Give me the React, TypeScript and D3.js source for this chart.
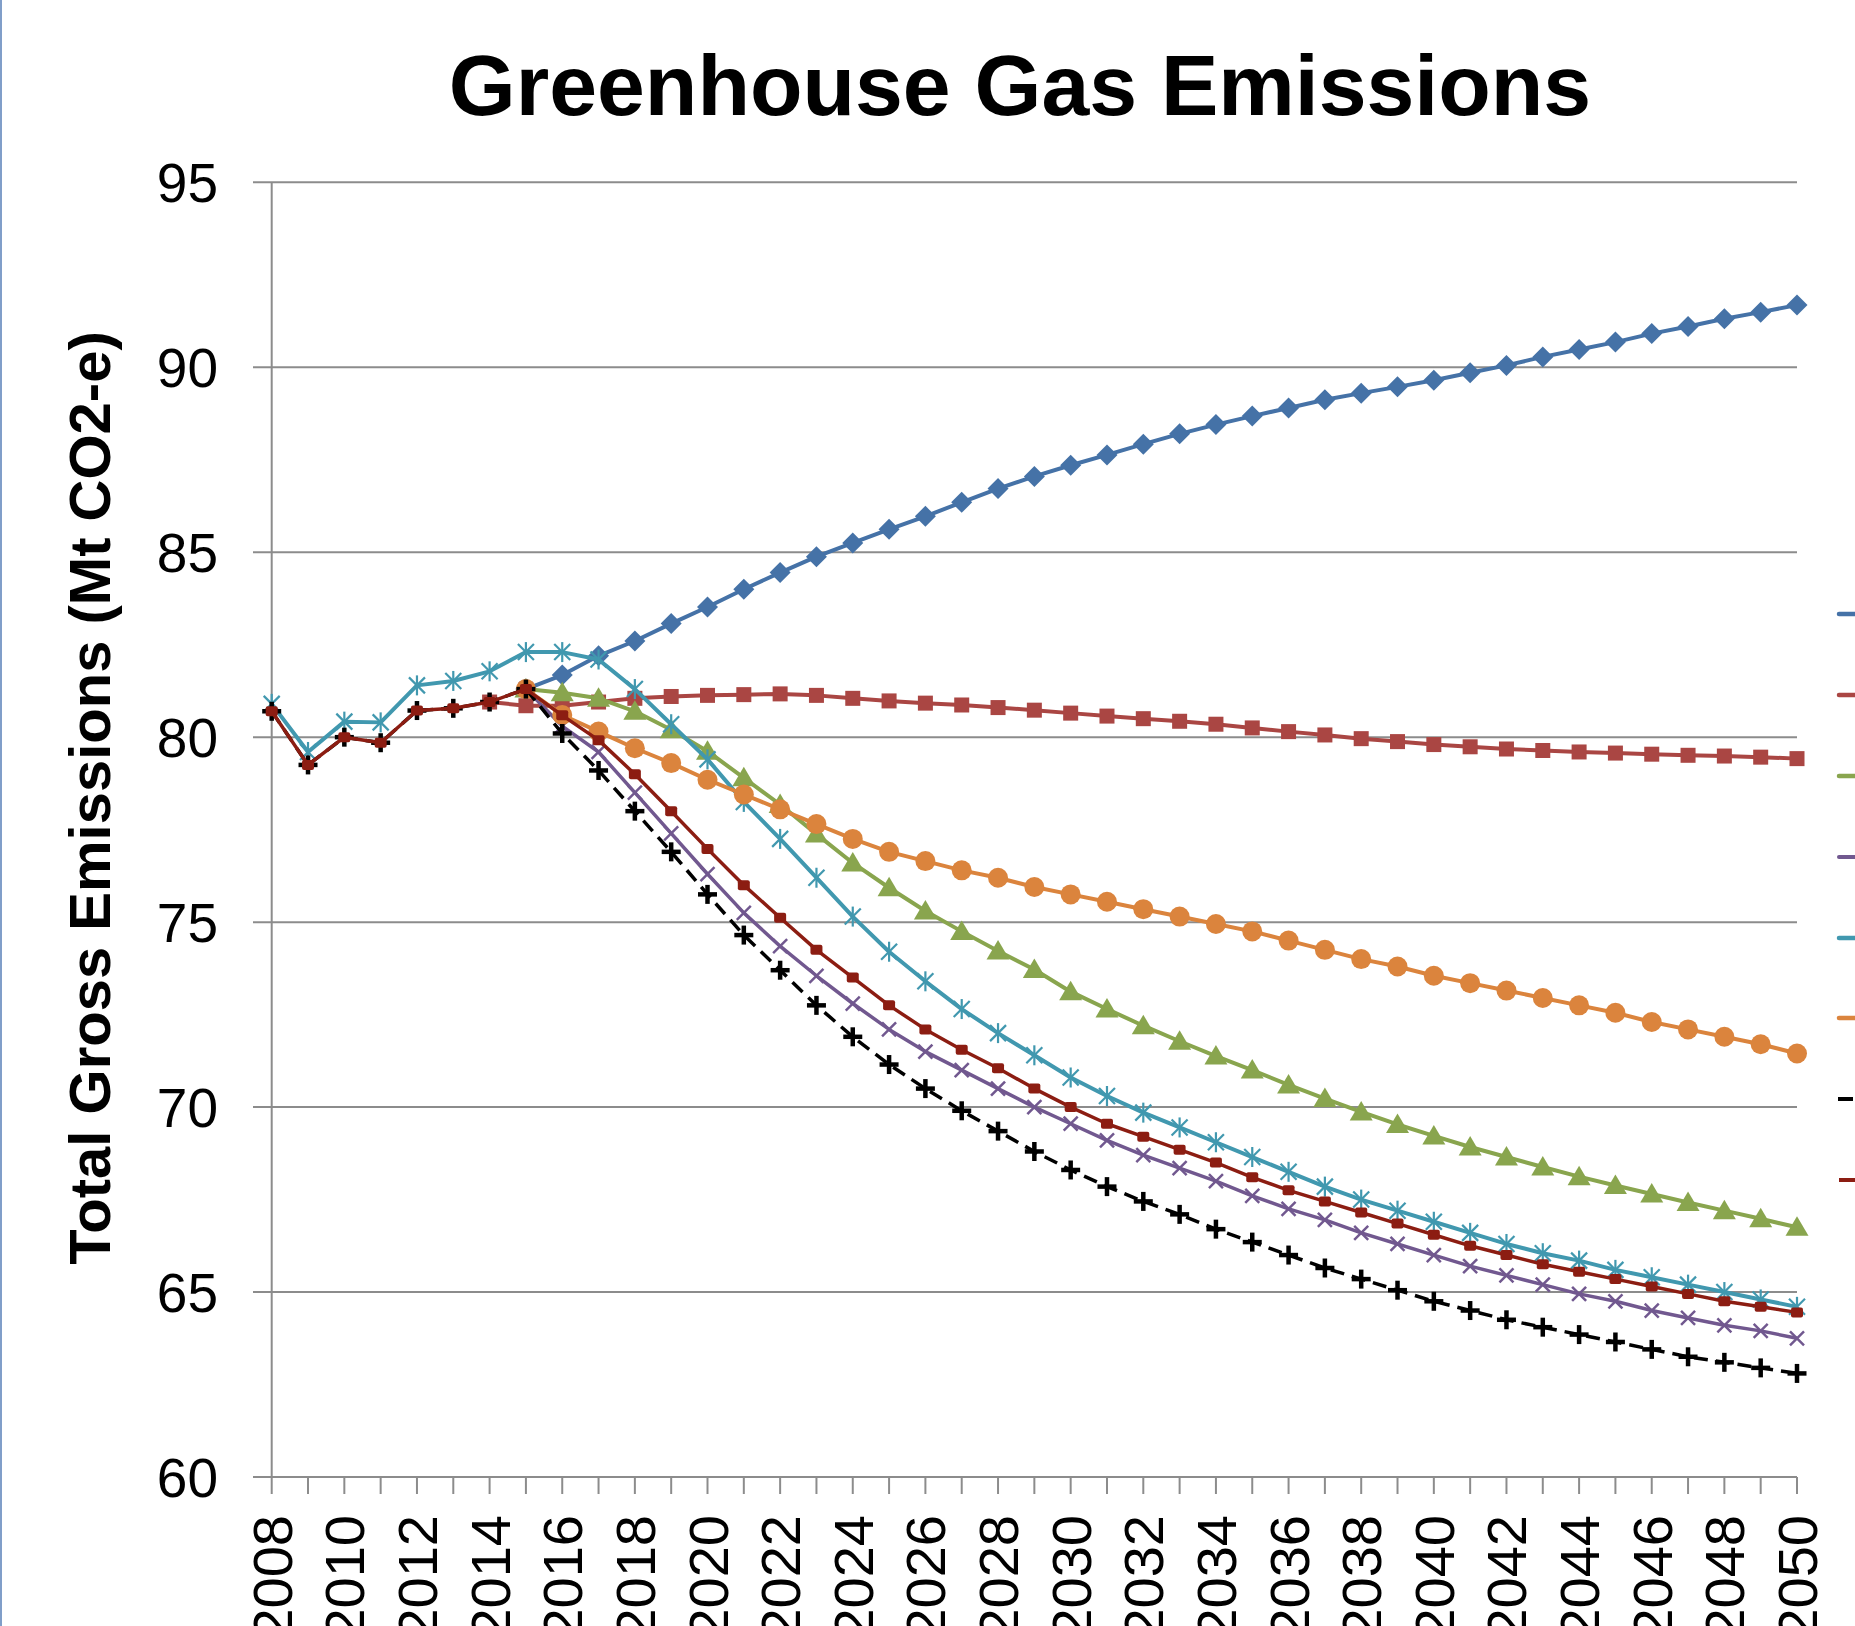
import React from "react";
import * as d3 from "d3";

const years: number[] = d3.range(2008, 2051);
const yTicks: number[] = [60, 65, 70, 75, 80, 85, 90, 95];
const xTickLabels: number[] = d3.range(2008, 2051, 2);

const N = null;
const seriesBlue = [N, N, N, N, N, N, N, 81.3, 81.68, 82.2, 82.6, 83.07, 83.52, 84.0, 84.45, 84.88, 85.25, 85.62, 85.97, 86.35, 86.72, 87.05, 87.35, 87.63, 87.92, 88.2, 88.45, 88.68, 88.9, 89.12, 89.3, 89.47, 89.65, 89.85, 90.05, 90.28, 90.48, 90.68, 90.91, 91.1, 91.31, 91.49, 91.68];
const seriesRed = [N, N, N, N, N, N, 80.95, 80.85, 80.85, 80.95, 81.05, 81.1, 81.13, 81.15, 81.17, 81.13, 81.05, 80.98, 80.92, 80.87, 80.8, 80.73, 80.65, 80.57, 80.5, 80.43, 80.35, 80.25, 80.15, 80.06, 79.96, 79.88, 79.8, 79.74, 79.68, 79.64, 79.6, 79.57, 79.54, 79.51, 79.49, 79.46, 79.42];
const seriesGreen = [N, N, N, N, N, N, N, 81.3, 81.2, 81.05, 80.7, 80.2, 79.62, 78.9, 78.18, 77.38, 76.6, 75.93, 75.3, 74.75, 74.22, 73.72, 73.12, 72.65, 72.2, 71.78, 71.38, 71.0, 70.6, 70.23, 69.87, 69.53, 69.22, 68.92, 68.65, 68.38, 68.12, 67.88, 67.65, 67.42, 67.2, 66.98, 66.75];
const seriesPurple = [N, N, N, N, N, N, N, 81.3, 80.3, 79.6, 78.5, 77.4, 76.3, 75.25, 74.35, 73.55, 72.8, 72.1, 71.5, 71.0, 70.5, 70.0, 69.55, 69.1, 68.7, 68.35, 68.0, 67.6, 67.25, 66.95, 66.6, 66.3, 66.0, 65.7, 65.45, 65.2, 64.95, 64.75, 64.5, 64.3, 64.1, 63.95, 63.75];
const seriesTeal = [80.9, 79.6, 80.42, 80.4, 81.4, 81.52, 81.78, 82.3, 82.3, 82.1, 81.3, 80.35, 79.4, 78.25, 77.25, 76.2, 75.15, 74.2, 73.4, 72.65, 72.0, 71.4, 70.8, 70.3, 69.85, 69.45, 69.05, 68.65, 68.25, 67.85, 67.5, 67.2, 66.9, 66.6, 66.3, 66.05, 65.85, 65.6, 65.4, 65.2, 65.0, 64.8, 64.6];
const seriesOrange = [N, N, N, N, N, N, N, 81.3, 80.6, 80.15, 79.7, 79.3, 78.85, 78.45, 78.05, 77.65, 77.25, 76.9, 76.65, 76.4, 76.2, 75.95, 75.75, 75.55, 75.35, 75.15, 74.95, 74.75, 74.5, 74.25, 74.0, 73.8, 73.55, 73.35, 73.15, 72.95, 72.75, 72.55, 72.3, 72.1, 71.9, 71.7, 71.45];
const seriesBlack = [80.7, 79.25, 80.0, 79.85, 80.72, 80.78, 80.95, 81.3, 80.1, 79.1, 78.0, 76.9, 75.75, 74.65, 73.7, 72.75, 71.9, 71.15, 70.5, 69.9, 69.35, 68.8, 68.3, 67.85, 67.45, 67.1, 66.7, 66.35, 66.0, 65.65, 65.35, 65.05, 64.75, 64.5, 64.25, 64.05, 63.85, 63.65, 63.45, 63.25, 63.1, 62.95, 62.8];
const seriesDarkRed = [80.7, 79.25, 80.0, 79.85, 80.72, 80.78, 80.95, 81.3, 80.59, 79.92, 79.0, 78.0, 76.98, 76.0, 75.12, 74.25, 73.5, 72.75, 72.1, 71.55, 71.05, 70.5, 70.0, 69.55, 69.2, 68.85, 68.5, 68.1, 67.75, 67.45, 67.15, 66.85, 66.55, 66.25, 66.0, 65.75, 65.55, 65.35, 65.15, 64.95, 64.75, 64.6, 64.45];

type Marker = "diamond" | "square" | "triangle" | "x" | "star" | "circle" | "plus" | "dash";

const series: { values: (number | null)[]; color: string; marker: Marker; width: number; dash?: string }[] = [
  { values: seriesBlue, color: "#4572A7", marker: "diamond", width: 4 },
  { values: seriesRed, color: "#AA4643", marker: "square", width: 4 },
  { values: seriesGreen, color: "#89A54E", marker: "triangle", width: 4 },
  { values: seriesPurple, color: "#71588F", marker: "x", width: 3.5 },
  { values: seriesTeal, color: "#4198AF", marker: "star", width: 4 },
  { values: seriesOrange, color: "#DB843D", marker: "circle", width: 4 },
  { values: seriesBlack, color: "#000000", marker: "plus", width: 3.5, dash: "14 8" },
  { values: seriesDarkRed, color: "#8C1D12", marker: "dash", width: 3.5 },
];

const FONT = "'Liberation Sans', Arial, sans-serif";

function MarkerShape({ type, color, x, y }: { type: Marker; color: string; x: number; y: number }) {
  const t = `translate(${x},${y})`;
  switch (type) {
    case "diamond":
      return <path transform={t} d="M0,-10.5L10.5,0L0,10.5L-10.5,0Z" fill={color} />;
    case "square":
      return <rect transform={t} x={-7.5} y={-7.5} width={15} height={15} fill={color} />;
    case "triangle":
      return <path transform={t} d="M0,-11L11.5,8.5L-11.5,8.5Z" fill={color} />;
    case "x":
      return (
        <g transform={t} stroke={color} strokeWidth={2.5}>
          <line x1={-7} y1={-7} x2={7} y2={7} />
          <line x1={-7} y1={7} x2={7} y2={-7} />
        </g>
      );
    case "star":
      return (
        <g transform={t} stroke={color} strokeWidth={2.2}>
          <line x1={-8} y1={-8} x2={8} y2={8} />
          <line x1={-8} y1={8} x2={8} y2={-8} />
          <line x1={0} y1={-10} x2={0} y2={10} />
        </g>
      );
    case "circle":
      return <circle cx={x} cy={y} r={10} fill={color} />;
    case "plus":
      return (
        <g transform={t} stroke={color} strokeWidth={4.5}>
          <line x1={-9.5} y1={0} x2={9.5} y2={0} />
          <line x1={0} y1={-9.5} x2={0} y2={9.5} />
        </g>
      );
    case "dash":
      return <rect transform={t} x={-6} y={-5} width={12} height={10} rx={2} fill={color} />;
  }
  return null;
}

export default function App() {
  const W = 1855;
  const H = 1626;
  const left = 271.7;
  const right = 1797;
  const top = 182.3;
  const bottom = 1477;

  const x = d3.scaleLinear().domain([2008, 2050]).range([left, right]);
  const y = d3.scaleLinear().domain([60, 95]).range([bottom, top]);

  const line = d3
    .line<number | null>()
    .defined((d) => d !== null)
    .x((_, i) => x(years[i]))
    .y((d) => y(d as number));

  const legendY = [614, 695, 776, 857, 938, 1018, 1099, 1180];
  const gridColor = "#8c8c8c";

  return (
    <svg
      width={W}
      height={H}
      viewBox={`0 0 ${W} ${H}`}
      style={{ position: "absolute", left: 0, top: 0, background: "#fff" }}
    >
      <rect x={0} y={0} width={W} height={H} fill="#fff" />
      <line x1={1} y1={0} x2={1} y2={H} stroke="#809ec9" strokeWidth={2} />

      <text
        x={1020}
        y={115}
        textAnchor="middle"
        fontFamily={FONT}
        fontWeight="bold"
        fontSize={86}
        fill="#000"
      >
        Greenhouse Gas Emissions
      </text>

      {yTicks.map((t) => (
        <line key={t} x1={253} x2={right} y1={y(t)} y2={y(t)} stroke={gridColor} strokeWidth={2} />
      ))}
      <line x1={left} x2={left} y1={top} y2={bottom} stroke={gridColor} strokeWidth={2} />
      {years.map((yr) => (
        <line key={yr} x1={x(yr)} x2={x(yr)} y1={bottom} y2={bottom + 17} stroke={gridColor} strokeWidth={2} />
      ))}

      {yTicks.map((t) => (
        <text
          key={t}
          x={218}
          y={y(t) + 20}
          textAnchor="end"
          fontFamily={FONT}
          fontSize={55}
          fill="#000"
        >
          {t}
        </text>
      ))}

      {xTickLabels.map((yr) => (
        <text
          key={yr}
          transform={`translate(${x(yr) + 20},1515) rotate(-90)`}
          textAnchor="end"
          fontFamily={FONT}
          fontSize={56}
          fill="#000"
        >
          {yr}
        </text>
      ))}

      <text
        transform="translate(110,798) rotate(-90)"
        textAnchor="middle"
        fontFamily={FONT}
        fontWeight="bold"
        fontSize={58}
        fill="#000"
      >
        Total Gross Emissions (Mt CO2-e)
      </text>

      {series.map((s, si) => (
        <g key={si}>
          <path
            d={line(s.values) || ""}
            fill="none"
            stroke={s.color}
            strokeWidth={s.width}
            strokeLinejoin="round"
            strokeDasharray={s.dash}
          />
          {s.values.map((v, i) =>
            v === null ? null : (
              <MarkerShape key={i} type={s.marker} color={s.color} x={x(years[i])} y={y(v)} />
            )
          )}
        </g>
      ))}

      {series.map((s, si) => (
        <g key={si}>
          <line
            x1={s.dash ? 1838 : 1839}
            x2={1905}
            y1={legendY[si]}
            y2={legendY[si]}
            stroke={s.color}
            strokeWidth={s.width + 0.5}
            strokeLinecap={s.dash || s.marker === "dash" ? "butt" : "round"}
            strokeDasharray={s.dash ? "15 8" : undefined}
          />
          <MarkerShape type={s.marker} color={s.color} x={1870} y={legendY[si]} />
        </g>
      ))}
    </svg>
  );
}
